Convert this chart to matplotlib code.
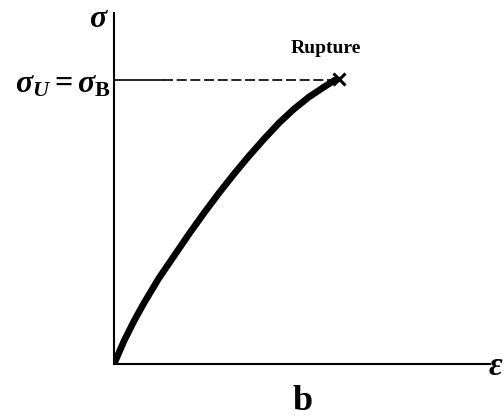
import matplotlib
matplotlib.use("Agg")
import matplotlib.pyplot as plt

# Stress-strain curve of a brittle material (normalised units)
strain = [0.0, 0.0266, 0.0532, 0.0798, 0.1197, 0.1596, 0.1995, 0.2394, 0.2793,
          0.3191, 0.3590, 0.3989, 0.4388, 0.4787, 0.5186, 0.5585, 0.5878]
stress = [0.0, 0.0655, 0.1225, 0.1738, 0.2450, 0.3077, 0.3704, 0.4302, 0.4872,
          0.5413, 0.5926, 0.6410, 0.6866, 0.7265, 0.7607, 0.7892, 0.8090]
rupture_strain = 0.598
rupture_stress = 0.812
ultimate_stress = 0.809
solid_end = 0.13

plt.rcParams["mathtext.fontset"] = "custom"
plt.rcParams["mathtext.rm"] = "Liberation Serif:bold"
plt.rcParams["mathtext.it"] = "Liberation Serif:bold:italic"
plt.rcParams["mathtext.bf"] = "Liberation Serif:bold"

fig = plt.figure(figsize=(5.04, 4.16), dpi=100)
ax = fig.add_axes([114 / 504, 52 / 416, 376 / 504, 351 / 416])
ax.set_xlim(0, 1)
ax.set_ylim(0, 1)
for side in ("top", "right"):
    ax.spines[side].set_visible(False)
for side in ("left", "bottom"):
    ax.spines[side].set_linewidth(1.5)
ax.set_xticks([])
ax.set_yticks([])

# curve
ax.plot(strain, stress, color="black", lw=4.8, solid_capstyle="round",
        solid_joinstyle="round")
# ultimate stress level
ax.plot([0, solid_end], [ultimate_stress, ultimate_stress], color="black", lw=1.2)
ax.plot([solid_end, rupture_strain - 0.01], [ultimate_stress, ultimate_stress],
        color="black", lw=1.2, dashes=(6, 2.2))
# rupture point
ax.plot([rupture_strain], [rupture_stress], marker="x", color="black",
        markersize=8, mew=2.2)

ax.text(rupture_strain - 0.035, ultimate_stress + 0.065, "Rupture",
        family="Liberation Serif", weight="bold", fontsize=14,
        ha="center", va="bottom")
ax.text(-0.012, 0.985, r"$\sigma$", fontsize=23, ha="right", va="center")
ax.text(-0.008, ultimate_stress - 0.012, r"$\sigma_U = \sigma_{\mathbf{B}}$",
        fontsize=23, ha="right", va="center")
ax.text(0.995, -0.005, r"$\epsilon$", fontsize=24, ha="left", va="center",
        clip_on=False)
fig.text(303 / 504, 1 - 401 / 416, "b", family="Liberation Serif", weight="bold",
         fontsize=26, ha="center", va="center")

fig.savefig("out.png", dpi=100, facecolor="white")
